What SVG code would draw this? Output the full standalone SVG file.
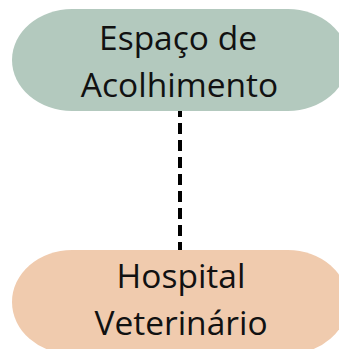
<svg xmlns="http://www.w3.org/2000/svg" width="339" height="349" viewBox="0 0 339 349">
<style>
.lbl{font-family:"Open Sans","Noto Sans",sans-serif;font-size:33.5px;fill:#111;text-anchor:middle}
</style>
<rect width="339" height="349" fill="#fff"/>
<g id="connectors">
<line x1="180" y1="111" x2="180" y2="250" stroke="#000" stroke-width="4" stroke-dasharray="11 6" stroke-dashoffset="5"/>
</g>
<g id="espaco">
<rect x="12" y="9" width="336" height="102" rx="60" ry="51" fill="#b3c9be"/>
<text class="lbl" x="178" y="50">Espaço de</text>
<text class="lbl" x="179.5" y="97">Acolhimento</text>
</g>
<g id="hospital">
<rect x="12" y="250" width="336" height="104" rx="60" ry="52" fill="#f0cbae"/>
<text class="lbl" x="181" y="288">Hospital</text>
<text class="lbl" x="181" y="335">Veterinário</text>
</g>
</svg>
